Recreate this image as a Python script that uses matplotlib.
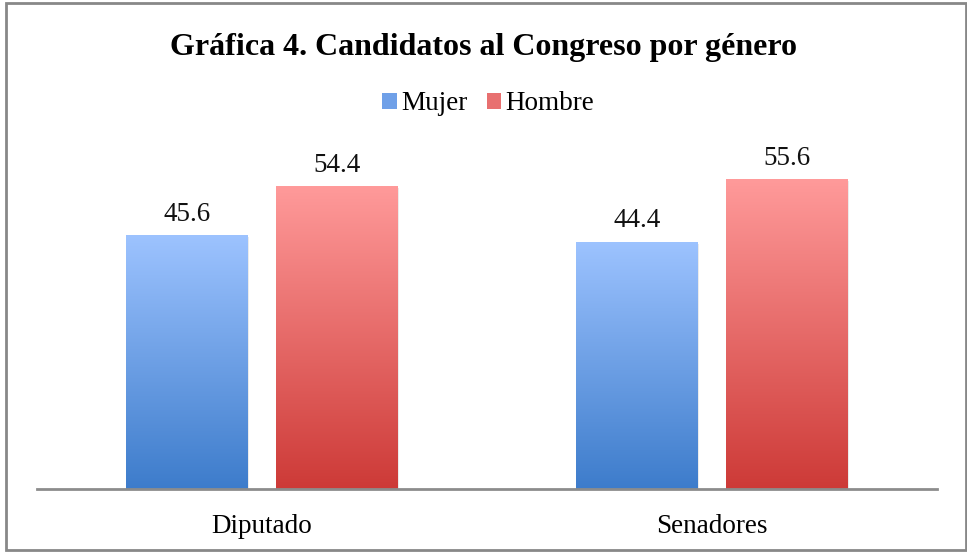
import numpy as np
import matplotlib
matplotlib.use("Agg")
import matplotlib.pyplot as plt
from matplotlib.patches import Rectangle, Patch
from matplotlib.colors import LinearSegmentedColormap

plt.rcParams['font.family'] = ['Liberation Serif', 'DejaVu Serif']

categories = ["Diputado", "Senadores"]
mujer = [45.6, 44.4]
hombre = [54.4, 55.6]
series = ["Mujer", "Hombre"]

blue_cm = LinearSegmentedColormap.from_list("b", ["#3d7ccb", "#9dc3ff"])
red_cm = LinearSegmentedColormap.from_list("r", ["#cd3a37", "#ff9a9a"])

fig = plt.figure(figsize=(9.67, 5.52), dpi=100)
ax = fig.add_axes([37/967, 63/552, 900/967, 334/552])

x = np.arange(len(categories))
w = 0.269
off = 0.1667
grad = np.linspace(0, 1, 256).reshape(-1, 1)

for vals, dx, cm in [(mujer, -off, blue_cm), (hombre, off, red_cm)]:
    bars = ax.bar(x + dx, vals, w, color="none", edgecolor="none")
    for b, v in zip(bars, vals):
        x0, y0 = b.get_x(), b.get_y()
        # soft shadow
        ax.add_patch(Rectangle((x0 + 0.004, y0 - 0.3), b.get_width(), b.get_height(),
                               color="#000000", alpha=0.08, zorder=1, lw=0))
        im = ax.imshow(grad, cmap=cm, origin="lower", aspect="auto",
                       extent=(x0, x0 + b.get_width(), y0, y0 + b.get_height()), zorder=2)
        im.set_clip_path(b)
        ax.text(b.get_x() + b.get_width() / 2, v + 3.8, f"{v:.1f}",
                ha="center", va="center", fontsize=19.5, color="#111111")

ax.set_xlim(-0.5, 1.5)
ax.set_ylim(0, 60)
ax.set_xticks(x)
ax.set_xticklabels(categories, fontsize=19.5)
ax.tick_params(axis="x", length=0, pad=18)
ax.set_yticks([])
for s in ["left", "right", "top"]:
    ax.spines[s].set_visible(False)
ax.spines["bottom"].set_color("#8c8c8c")
ax.spines["bottom"].set_linewidth(2)
ax.spines["bottom"].set_zorder(5)

fig.text(0.5, 1 - 47/552, "Gráfica 4. Candidatos al Congreso por género",
         ha="center", va="center", fontsize=23, fontweight="bold")

handles = [Patch(facecolor="#6fa0e8", edgecolor="none"),
           Patch(facecolor="#e87070", edgecolor="none")]
fig.legend(handles, series, loc="center", bbox_to_anchor=(0.505, 1 - 104/552),
           ncol=2, frameon=False, fontsize=19.5, handlelength=0.55, handleheight=0.55,
           handletextpad=0.15, columnspacing=0.7)

fig.patches.append(Rectangle((6/967, 2/552), 960/967, 547/552, transform=fig.transFigure,
                             fill=False, edgecolor="#888888", lw=2))

fig.savefig("out.png", dpi=100)
